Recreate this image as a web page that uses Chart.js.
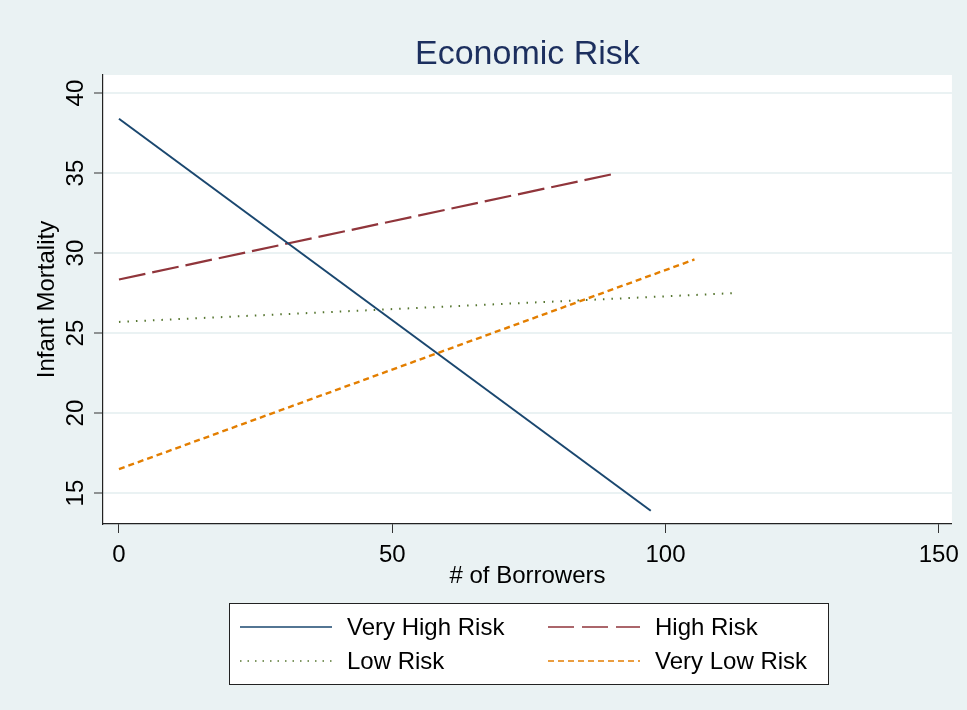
<!DOCTYPE html>
<html>
<head>
<meta charset="utf-8">
<script src="https://cdn.jsdelivr.net/npm/chart.js@4.4.1/dist/chart.umd.min.js"></script>
<style>
  html, body { margin: 0; padding: 0; background: #eaf2f3; }
  #wrap { width: 967px; height: 710px; position: relative; }
</style>
</head>
<body>
<div id="wrap"><canvas id="risk-chart"></canvas></div>
<script>
// values (fitted lines: first and last point)
const chartTitle = 'Economic Risk';
const xTicks = [0, 50, 100, 150];
const yTicks = [15, 20, 25, 30, 35, 40];

const veryHighX = [0, 97.3];
const veryHighY = [38.4, 13.9];
const highX = [0, 91.2];
const highY = [28.35, 35.0];
const lowX = [0, 112.6];
const lowY = [25.7, 27.5];
const veryLowX = [0, 105.3];
const veryLowY = [16.5, 29.6];

const FONT = "'Liberation Sans', Arial, sans-serif";

function pts(xs, ys) {
    return xs.map((x, i) => ({ x: x, y: ys[i] }));
}

// background + white plot region
const bgPlugin = {
    id: 'bg',
    beforeDraw(chart) {
        const { ctx, chartArea: a } = chart;
        ctx.save();
        ctx.fillStyle = '#eaf2f3';
        ctx.fillRect(0, 0, chart.width, chart.height);
        ctx.fillStyle = '#ffffff';
        ctx.fillRect(a.left, a.top, a.right - a.left, a.bottom - a.top);
        ctx.restore();
    }
};

// title centred over the plot region
const titlePlugin = {
    id: 'plotTitle',
    afterDraw(chart) {
        const { ctx, chartArea: a } = chart;
        ctx.save();
        ctx.font = '34px ' + FONT;
        ctx.fillStyle = '#1c2f5e';
        ctx.textAlign = 'center';
        ctx.textBaseline = 'alphabetic';
        ctx.fillText(chartTitle, (a.left + a.right) / 2, 64);
        ctx.restore();
    }
};

// boxed two-column legend like the Stata one
const boxLegend = {
    id: 'boxLegend',
    afterDraw(chart) {
        const { ctx } = chart;
        const box = { x: 229.5, y: 603.5, w: 599, h: 81 };
        const cols = [{ line: 240, text: 347 }, { line: 548, text: 655 }];
        const rows = [627, 661];
        const lineLen = 92;
        ctx.save();
        ctx.fillStyle = '#ffffff';
        ctx.fillRect(box.x, box.y, box.w, box.h);
        ctx.strokeStyle = '#222';
        ctx.lineWidth = 1;
        ctx.strokeRect(box.x, box.y, box.w, box.h);
        chart.data.datasets.forEach((ds, i) => {
            const c = cols[i % 2];
            const y = rows[Math.floor(i / 2)];
            ctx.beginPath();
            ctx.setLineDash(ds.legendDash);
            ctx.strokeStyle = ds.borderColor;
            ctx.lineWidth = 1.3;
            ctx.moveTo(c.line, y);
            ctx.lineTo(c.line + lineLen, y);
            ctx.stroke();
            ctx.setLineDash([]);
            ctx.fillStyle = '#000';
            ctx.font = '24px ' + FONT;
            ctx.textAlign = 'left';
            ctx.textBaseline = 'middle';
            ctx.fillText(ds.label, c.text, y + 1);
        });
        ctx.restore();
    }
};

const ctx = document.getElementById('risk-chart').getContext('2d');
const chart = new Chart(ctx, {
    type: 'line',
    data: {
        datasets: [
            {
                label: 'Very High Risk',
                data: pts(veryHighX, veryHighY),
                borderColor: '#1a476f',
                borderWidth: 2,
                borderDash: [],
                legendDash: []
            },
            {
                label: 'High Risk',
                data: pts(highX, highY),
                borderColor: '#90353b',
                borderWidth: 2.2,
                borderDash: [27, 7],
                legendDash: [26, 8]
            },
            {
                label: 'Low Risk',
                data: pts(lowX, lowY),
                borderColor: '#55752f',
                borderWidth: 2,
                borderDash: [1.5, 7],
                legendDash: [1.5, 6]
            },
            {
                label: 'Very Low Risk',
                data: pts(veryLowX, veryLowY),
                borderColor: '#e37e00',
                borderWidth: 2.4,
                borderDash: [6, 4],
                legendDash: [6, 4]
            }
        ]
    },
    options: {
        responsive: true,
        maintainAspectRatio: false,
        animation: false,
        layout: { padding: { left: 0, right: 12, top: 75, bottom: 110 } },
        elements: { point: { radius: 0 }, line: { tension: 0 } },
        plugins: {
            legend: { display: false },
            tooltip: { enabled: false }
        },
        scales: {
            x: {
                type: 'linear',
                min: -2.92,
                max: 152.4,
                afterBuildTicks: s => { s.ticks = xTicks.map(v => ({ value: v })); },
                afterFit: s => { s.height = 76; },
                grid: { drawOnChartArea: false, tickLength: 9, tickColor: '#333', tickWidth: 1 },
                border: { color: '#222', width: 1.2 },
                ticks: { color: '#000', font: { family: FONT, size: 24 }, padding: 8, maxRotation: 0 },
                title: {
                    display: true,
                    text: '# of Borrowers',
                    color: '#000',
                    font: { family: FONT, size: 24 },
                    padding: { top: 0, bottom: 9 }
                }
            },
            y: {
                type: 'linear',
                min: 13.07,
                max: 41.13,
                afterBuildTicks: s => { s.ticks = yTicks.map(v => ({ value: v })); },
                afterFit: s => { s.width = 103; },
                grid: { color: '#eaf2f3', lineWidth: 2, tickLength: 9, tickColor: '#333', tickWidth: 1 },
                border: { color: '#222', width: 1.2 },
                ticks: {
                    color: '#000',
                    font: { family: FONT, size: 24 },
                    minRotation: 90,
                    maxRotation: 90,
                    crossAlign: 'center',
                    padding: 4
                },
                title: {
                    display: true,
                    text: 'Infant Mortality',
                    color: '#000',
                    font: { family: FONT, size: 24 },
                    padding: { top: 33, bottom: 0 }
                }
            }
        }
    },
    plugins: [bgPlugin, titlePlugin, boxLegend]
});
</script>
</body>
</html>
